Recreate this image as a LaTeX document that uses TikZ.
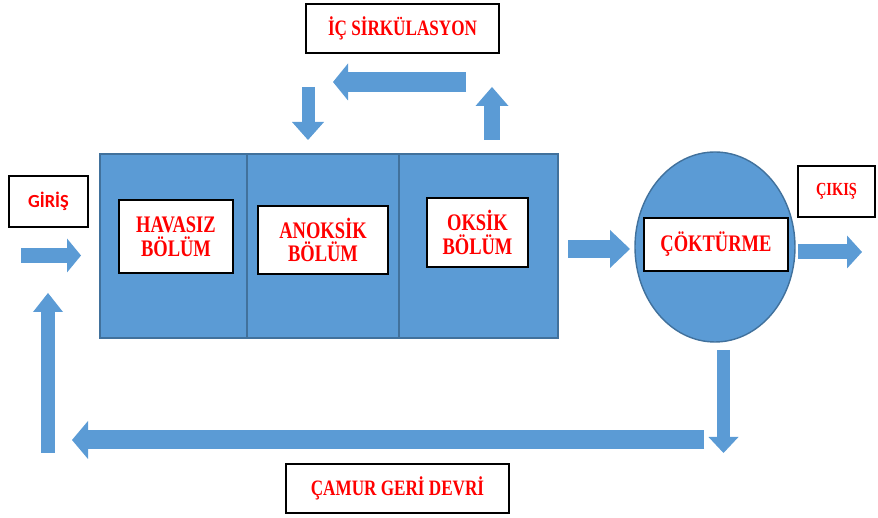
\documentclass[tikz,border=0pt]{standalone}
\usepackage{fontspec}
\newfontfamily\lblfont[FakeStretch=0.78]{Liberation Serif}
\newfontfamily\girfont{Carlito}
\usepackage{tikz}
\usetikzlibrary{shapes.geometric, arrows.meta, positioning}
\definecolor{tankblue}{RGB}{91,155,213}
\definecolor{tankedge}{RGB}{65,113,156}

\begin{document}
\begin{tikzpicture}[x=0.2mm, y=-0.2mm,
  zone/.style={rectangle, draw=tankedge, fill=tankblue, thick, minimum height=36.8mm, inner sep=0},
  lbl/.style={rectangle, draw=black, fill=white, line width=1pt, inner sep=0, align=center, text=red, font=\lblfont\bfseries\fontsize{13.5}{13.5}\selectfont},
  flow/.style={draw=tankblue}]
\useasboundingbox (0,0) rectangle (878,518);
% tank and settler
\node[zone, minimum width=29.4mm] (z1) at (173.5,246) {};
\node[zone, minimum width=30.4mm] (z2) at (323,246) {};
\node[zone, minimum width=31.8mm] (z3) at (478.5,246) {};
\node[ellipse, draw=tankedge, fill=tankblue, thick, minimum width=32mm, minimum height=38mm] (c) at (715,247) {};
% labels
\node[lbl, minimum width=22.8mm, minimum height=14.6mm] (h1) at (176,236.5) {HAVASIZ\\BÖLÜM};
\node[lbl, minimum width=26mm, minimum height=13.6mm] (h2) at (323,240) {ANOKSİK\\BÖLÜM};
\node[lbl, minimum width=20.2mm, minimum height=13.8mm] (h3) at (477.5,232.5) {OKSİK\\BÖLÜM};
\node[lbl, minimum width=28.8mm, minimum height=10.6mm] (h4) at (716,244.5) {ÇÖKTÜRME};
\node[lbl, minimum width=15.4mm, minimum height=10.2mm, font=\lblfont\bfseries\fontsize{10.5}{12}\selectfont] (out) at (836.5,191.5) {ÇIKIŞ};
\node[lbl, minimum width=15.8mm, minimum height=10.2mm, font=\girfont\bfseries\fontsize{10.5}{12}\selectfont] (in) at (48.5,201.5) {GİRİŞ};
\node[lbl, minimum width=38.6mm, minimum height=9.8mm, font=\lblfont\bfseries\fontsize{12.5}{13}\selectfont] (ic) at (402.5,28.5) {İÇ SİRKÜLASYON};
\node[lbl, minimum width=44.6mm, minimum height=9.8mm, font=\lblfont\bfseries\fontsize{12.5}{13}\selectfont] (geri) at (397.5,488.5) {ÇAMUR GERİ DEVRİ};
% arrow ends
\coordinate (a1) at (21,255.5);   \coordinate (a2) at (81,255.5);
\coordinate (b1) at (568,249);    \coordinate (b2) at (630,249);
\coordinate (d1) at (798,252);    \coordinate (d2) at (862,252);
\coordinate (t1) at (466,82);     \coordinate (t2) at (333,82);
\coordinate (t3) at (308,87);     \coordinate (t4) at (308,140);
\coordinate (t5) at (492,140);    \coordinate (t6) at (492,87);
\coordinate (r1) at (723.5,350);  \coordinate (r2) at (723.5,453);
\coordinate (r3) at (704,440);    \coordinate (r4) at (72,440);
\coordinate (r5) at (48,453);     \coordinate (r6) at (48,293);
% arrows
\draw[flow, line width=3mm, -{Triangle[width=6.8mm, length=2.8mm, line width=0pt]}] (a1) -- (a2);
\draw[flow, line width=3.6mm, -{Triangle[width=7.6mm, length=4mm, line width=0pt]}] (b1) -- (b2);
\draw[flow, line width=3mm, -{Triangle[width=6.6mm, length=3mm, line width=0pt]}] (d1) -- (d2);
\draw[flow, line width=4mm, -{Triangle[width=7.4mm, length=3mm, line width=0pt]}] (t1) -- (t2);
\draw[flow, line width=2.6mm, -{Triangle[width=6.4mm, length=3.6mm, line width=0pt]}] (t3) -- (t4);
\draw[flow, line width=3.2mm, -{Triangle[width=6.6mm, length=3.8mm, line width=0pt]}] (t5) -- (t6);
\draw[flow, line width=2.6mm, -{Triangle[width=6mm, length=3.2mm, line width=0pt]}] (r1) -- (r2);
\draw[flow, line width=3.8mm, -{Triangle[width=7.6mm, length=3.2mm, line width=0pt]}] (r3) -- (r4);
\draw[flow, line width=2.8mm, -{Triangle[width=6mm, length=3.8mm, line width=0pt]}] (r5) -- (r6);
\end{tikzpicture}
\end{document}
